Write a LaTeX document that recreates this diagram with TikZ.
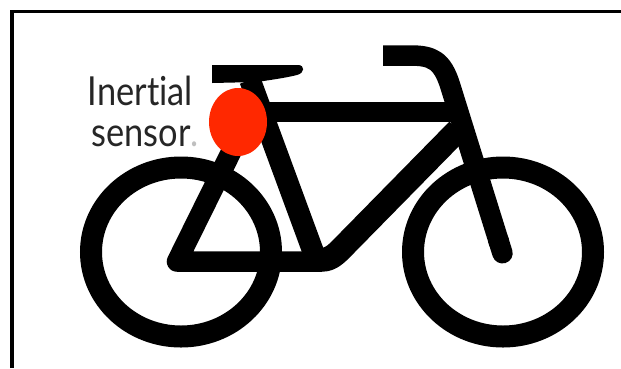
\documentclass[tikz,border=0pt]{standalone}
\usepackage{fontspec}
\setmainfont[Ligatures=CommonOff]{Lato}
\usepackage{xcolor}
\usetikzlibrary{arrows.meta, positioning}
\definecolor{sensorred}{RGB}{255, 40, 0}
\begin{document}
\begin{tikzpicture}[
  x=1pt, y=-1pt,
  wheel/.style={draw=black, line width=22pt},
  tube/.style={draw=black, line width=20.5pt, line join=round},
  lbl/.style={font=\fontsize{40}{40}\selectfont, inner sep=0pt, anchor=base, xscale=0.86, text=black!85},
]
  \useasboundingbox (0,0) rectangle (621,368);
  % frame, only top and left are in the crop
  \draw[line width=3.5pt] (12,368) -- (12,11.5) -- (621,11.5);
  % wheels
  \draw[wheel] (181,252) ellipse [x radius=90, y radius=84.5];
  \draw[wheel] (503,252) ellipse [x radius=90, y radius=84.5];
  % frame tubes
  \draw[tube, line width=21.5pt] (250,80) -- (317,262);
  \draw[tube] (255,112) -- (456,112);
  \draw[tube] (242,130) -- (177,261.5) -- (322,261.5);
  \draw[tube, line width=24pt] (314,259.7) -- (322,259.7)
    .. controls (332,259.7) and (338,252) .. (347,243) -- (458,130);
  % handlebar and fork
  \draw[tube, -{Round Cap[]}] (383,55.5) -- (410,55.5)
    .. controls (432,55.5) and (442,60) .. (450,85) -- (505.5,263);
  % saddle
  \fill (212,65) -- (298,65)
    .. controls (305,65) and (305,73) .. (297,75)
    .. controls (285,78) and (270,80) .. (257,82) -- (212,83) -- cycle;
  % sensor
  \fill[sensorred] (238,122) ellipse [x radius=29, y radius=34];
  % label
  \node[lbl] (inertial) at (140.5,105) {Inertial};
  \node[lbl] (sensor) at (145,146) {sensor\textcolor{black!25}{.}};
\end{tikzpicture}
\end{document}
